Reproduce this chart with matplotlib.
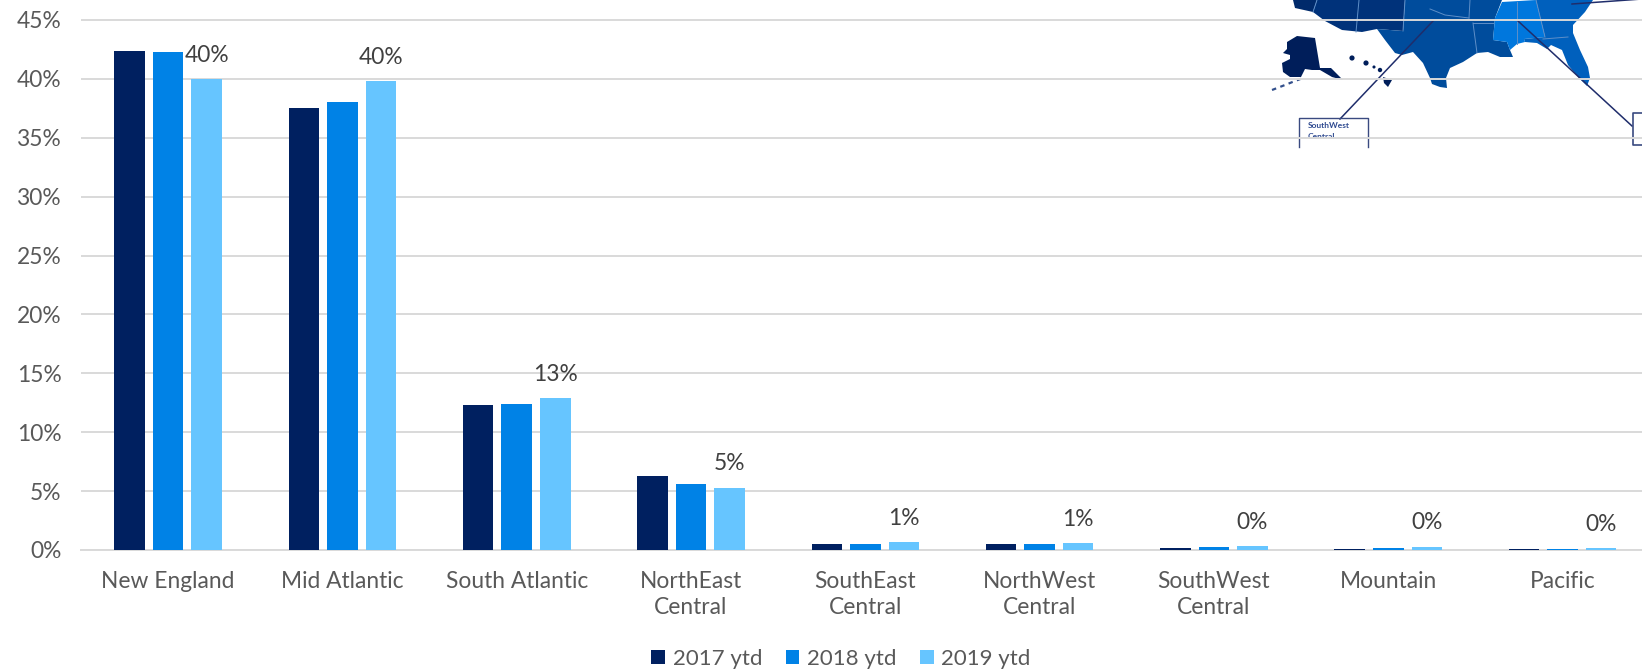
import numpy as np
import matplotlib
matplotlib.use('Agg')
import matplotlib.pyplot as plt
from matplotlib.patches import Polygon, Rectangle

plt.rcParams['font.family'] = ['Lato', 'DejaVu Sans']

categories = ['New England', 'Mid Atlantic', 'South Atlantic', 'NorthEast\nCentral', 'SouthEast\nCentral',
              'NorthWest\nCentral', 'SouthWest\nCentral', 'Mountain', 'Pacific']
ytd_2017 = [42.4, 37.5, 12.3, 6.3, 0.53, 0.48, 0.2, 0.12, 0.09]
ytd_2018 = [42.3, 38.0, 12.4, 5.6, 0.55, 0.53, 0.29, 0.2, 0.12]
ytd_2019 = [40.0, 39.8, 12.9, 5.3, 0.65, 0.6, 0.35, 0.29, 0.2]
labels_2019 = ['40%', '40%', '13%', '5%', '1%', '1%', '0%', '0%', '0%']
series_names = ['2017 ytd', '2018 ytd', '2019 ytd']
y_ticks = [0, 5, 10, 15, 20, 25, 30, 35, 40, 45]

colors = ['#002060', '#0082e6', '#66c5ff']

# map fragment pasted behind the chart, in image pixels
pacific = [(1293, 0), (1317, 0), (1313, 12), (1295, 8)]
southwest = [(1317, 0), (1405, 0), (1403, 31), (1377, 29), (1362, 32), (1342, 30), (1325, 21), (1313, 12)]
central = [(1405, 0), (1502, 0), (1495, 18), (1493, 40), (1507, 42), (1510, 50), (1513, 57), (1500, 57),
           (1488, 52), (1477, 53), (1463, 62), (1450, 68), (1446, 78), (1447, 88), (1440, 87), (1432, 84),
           (1430, 78), (1423, 63), (1413, 52), (1402, 55), (1395, 53), (1385, 40), (1377, 29), (1403, 31)]
southeast = [(1502, 2), (1536, 0), (1545, 37), (1524, 39), (1525, 42), (1517, 44), (1510, 50), (1507, 42),
             (1493, 40), (1495, 18)]
atlantic = [(1536, 0), (1593, 0), (1585, 12), (1573, 25), (1573, 33), (1580, 50), (1588, 67), (1590, 78),
            (1587, 86), (1578, 77), (1568, 65), (1562, 50), (1551, 45), (1547, 49), (1537, 43), (1525, 42),
            (1524, 39), (1545, 37)]
alaska = [(1287, 42), (1297, 36), (1315, 38), (1320, 68), (1331, 68), (1343, 80), (1332, 77), (1320, 70),
          (1312, 70), (1305, 69), (1301, 77), (1290, 77), (1283, 72), (1282, 63), (1290, 59), (1290, 55),
          (1283, 53), (1287, 49)]
hawaii = [(1383, 77), (1392, 80), (1388, 87), (1384, 83)]
state_lines = [[(1359, 0), (1356, 32)], [(1405, 0), (1403, 31)], [(1317, 0), (1313, 12)],
               [(1517, 2), (1517, 44)], [(1470, 0), (1469, 18)], [(1473, 23), (1493, 23)],
               [(1473, 23), (1477, 53)], [(1430, 9), (1445, 15), (1469, 18)], [(1543, 39), (1568, 37)],
               [(1536, 0), (1545, 37)]]

fig = plt.figure(figsize=(16.42, 6.7), dpi=100)

bg = fig.add_axes([0, 0, 1, 1], zorder=0)
bg.set_xlim(0, 1642)
bg.set_ylim(670, 0)
bg.axis('off')
for pts, c in [(pacific, '#002a6b'), (southwest, '#00327a'), (central, '#004c9c'), (southeast, '#0077dd'),
               (atlantic, '#0060bd'), (alaska, '#001e5a'), (hawaii, '#001e5a')]:
    bg.add_patch(Polygon(pts, closed=True, facecolor=c, edgecolor='none'))
for line in state_lines:
    bg.plot(*zip(*line), color='#5f8fc8', lw=0.7)
bg.plot([1272, 1285, 1295, 1303], [90, 85, 81, 78], color='#33508c', lw=1.6, ls=(0, (2, 2)))
bg.scatter([1352, 1366, 1374, 1380], [58, 63, 67, 70], s=[14, 14, 5, 10], color='#001e5a', linewidths=0)
bg.plot([1433, 1340], [21, 119], color='#1f2d6b', lw=1.1)
bg.plot([1518, 1632], [21, 126], color='#1f2d6b', lw=1.1)
bg.plot([1572, 1642], [4, -1], color='#1f2d6b', lw=1.1)
bg.plot([1299, 1299, 1368, 1368], [147, 118, 118, 147], color='#3a4a80', lw=1)
bg.plot([1642, 1633, 1633, 1642], [113, 113, 145, 145], color='#3a4a80', lw=1.2)
bg.text(1308, 126, 'SouthWest', fontsize=6, fontweight='bold', color='#2f4a90', va='center')
central_txt = bg.text(1308, 136.5, 'Central', fontsize=6, fontweight='bold', color='#2f4a90', va='center')
central_txt.set_clip_path(Rectangle((1299, 118), 69, 21, transform=bg.transData))

ax = fig.add_axes([81 / 1642, 120 / 670, 1 - 81 / 1642, 550 / 670], zorder=1)
ax.patch.set_visible(False)

x = np.arange(len(categories))
width = 0.175
step = 0.221
bars = []
for i, vals in enumerate([ytd_2017, ytd_2018, ytd_2019]):
    bars.append(ax.bar(x + (i - 1) * step, vals, width, color=colors[i], label=series_names[i], zorder=3))

for bar, lab in zip(bars[2], labels_2019):
    ax.annotate(lab, (bar.get_x() + bar.get_width() / 2, bar.get_height()), xytext=(0, 17),
                textcoords='offset points', ha='center', va='center', fontsize=16.4, color='#404040', zorder=4)

ax.set_xlim(-0.5, (1642 - 81) / 174.3 - 0.5)
ax.set_ylim(0, 550 / 58.9 * 5)
ax.set_yticks(y_ticks)
ax.set_yticklabels([f'{t}%' for t in y_ticks])
ax.set_xticks(x)
ax.set_xticklabels(categories, linespacing=1.3)
ax.tick_params(axis='y', length=0, pad=14, labelsize=16.4, labelcolor='#595959')
ax.tick_params(axis='x', length=0, pad=15, labelsize=16.4, labelcolor='#595959')
ax.grid(axis='y', color='#d9d9d9', lw=1.4)
ax.set_axisbelow(True)
for side in ['top', 'right', 'left']:
    ax.spines[side].set_visible(False)
ax.spines['bottom'].set_color('#d9d9d9')
ax.spines['bottom'].set_linewidth(1.4)

leg = fig.legend(loc='center', bbox_to_anchor=(841 / 1642, 11 / 670), ncol=3, frameon=False, fontsize=16,
                 labelcolor='#595959', handlelength=0.62, handleheight=0.62, handletextpad=0.35,
                 columnspacing=1.05, borderpad=0, borderaxespad=0)

fig.savefig('out.png', dpi=100)
